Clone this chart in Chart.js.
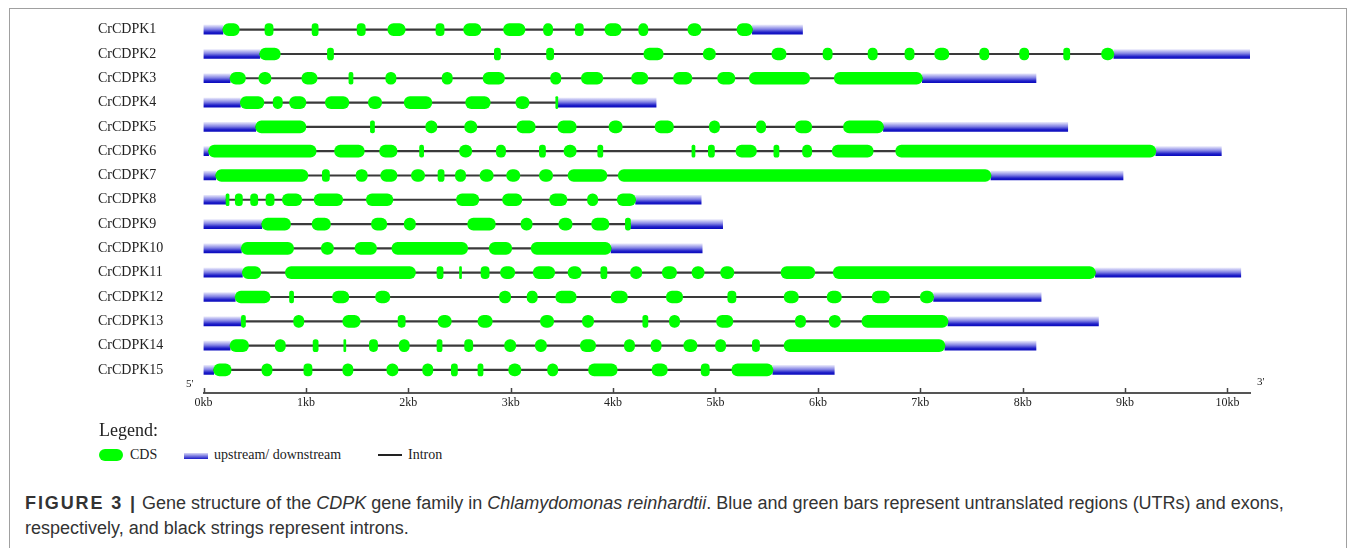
<!DOCTYPE html>
<html>
<head>
<meta charset="utf-8">
<script src="https://cdn.jsdelivr.net/npm/chart.js@4"></script>
<style>
  body { margin: 0; background: #fff; width: 1355px; height: 548px; overflow: hidden; position: relative; }
  #frame { position: absolute; left: 9px; top: 8px; width: 1336px; height: 560px; border: 1px solid #a0a0a0; }
  #wrap { position: absolute; left: 0; top: 0; width: 1355px; height: 420px; }
  .serif { font-family: "Liberation Serif", "DejaVu Serif", serif; color: #222; position: absolute; white-space: nowrap; }
  .caption { position: absolute; left: 25px; font-family: "Liberation Sans", Arial, sans-serif; font-size: 18px; color: #333; white-space: nowrap; }
  .caption b { letter-spacing: 1.9px; }
</style>
</head>
<body>
<div id="frame"></div>
<div id="wrap"><canvas id="geneChart" width="1355" height="420"></canvas></div>

<div class="serif" style="left:186px; top:377px; font-size:11px;">5'</div>
<div class="serif" style="left:1257px; top:375px; font-size:11px;">3'</div>

<div class="serif" style="left:99px; top:420px; font-size:18px;">Legend:</div>
<div style="position:absolute; left:99px; top:449px; width:24px; height:12px; border-radius:6px; background:#00ff00;"></div>
<div class="serif" style="left:130px; top:447px; font-size:14px;">CDS</div>
<div style="position:absolute; left:184px; top:453px; width:24px; height:6px; background:linear-gradient(#d8d8f6, #1a1ac8);"></div>
<div class="serif" style="left:214px; top:447px; font-size:14px;">upstream/ downstream</div>
<div style="position:absolute; left:378px; top:454px; width:24px; height:1.5px; background:#222;"></div>
<div class="serif" style="left:408px; top:447px; font-size:14px;">Intron</div>

<div class="caption" style="top:493px;"><b>FIGURE 3 |</b> Gene structure of the <i>CDPK</i> gene family in <i>Chlamydomonas reinhardtii</i>. Blue and green bars represent untranslated regions (UTRs) and exons,</div>
<div class="caption" style="top:518px;">respectively, and black strings represent introns.</div>

<script>
// gene names, top to bottom
const genes = ['CrCDPK1', 'CrCDPK2', 'CrCDPK3', 'CrCDPK4', 'CrCDPK5', 'CrCDPK6', 'CrCDPK7', 'CrCDPK8',
  'CrCDPK9', 'CrCDPK10', 'CrCDPK11', 'CrCDPK12', 'CrCDPK13', 'CrCDPK14', 'CrCDPK15'];

// full length of each gene (kb), every gene starts at 0
const geneEnd = [5.85, 10.23, 8.13, 4.42, 8.44, 9.94, 8.98, 4.86, 5.07, 4.87, 10.13, 8.18, 8.74, 8.13, 6.16];

// CDS (exon) intervals in kb, per gene
const exons1 = [[0.19,0.35],[0.60,0.68],[1.06,1.12],[1.50,1.58],[1.80,1.97],[2.27,2.35],[2.54,2.71],[2.93,3.14],[3.32,3.41],[3.63,3.71],[3.92,4.08],[4.25,4.34],[4.73,4.86],[5.21,5.36]];
const exons2 = [[0.55,0.75],[1.21,1.27],[2.84,2.90],[3.35,3.42],[4.30,4.49],[4.88,5.00],[5.55,5.69],[6.05,6.14],[6.49,6.58],[6.85,6.94],[7.14,7.28],[7.58,7.67],[7.97,8.06],[8.40,8.46],[8.77,8.89]];
const exons3 = [[0.26,0.41],[0.54,0.66],[0.96,1.11],[1.42,1.46],[1.78,1.88],[2.33,2.43],[2.73,2.94],[3.39,3.49],[3.69,3.90],[4.18,4.34],[4.59,4.77],[5.02,5.19],[5.33,5.92],[6.16,7.02]];
const exons4 = [[0.36,0.59],[0.68,0.77],[0.84,1.00],[1.19,1.42],[1.61,1.74],[1.96,2.23],[2.56,2.80],[3.05,3.18],[3.44,3.46]];
const exons5 = [[0.51,1.00],[1.63,1.67],[2.17,2.28],[2.55,2.67],[3.06,3.24],[3.46,3.64],[3.96,4.09],[4.41,4.59],[4.94,5.04],[5.40,5.49],[5.78,5.94],[6.25,6.64]];
const exons6 = [[0.05,1.10],[1.28,1.57],[1.72,1.89],[2.11,2.15],[2.50,2.62],[2.86,2.95],[3.28,3.34],[3.52,3.64],[3.85,3.90],[4.77,4.80],[4.93,4.99],[5.20,5.40],[5.57,5.62],[5.85,5.94],[6.14,6.54],[6.76,9.30]];
const exons7 = [[0.12,1.02],[1.16,1.23],[1.49,1.60],[1.73,1.89],[2.03,2.16],[2.29,2.35],[2.46,2.56],[2.70,2.83],[2.96,3.09],[3.28,3.41],[3.56,3.94],[4.05,7.69]];
const exons8 = [[0.22,0.25],[0.31,0.38],[0.46,0.53],[0.61,0.69],[0.77,0.96],[1.08,1.36],[1.59,1.85],[2.47,2.69],[2.92,3.11],[3.38,3.55],[3.75,3.85],[4.04,4.22]];
const exons9 = [[0.57,0.85],[1.06,1.24],[1.64,1.79],[1.96,2.07],[2.58,2.85],[3.10,3.21],[3.47,3.60],[3.79,3.96],[4.12,4.17]];
const exons10 = [[0.37,0.88],[1.15,1.27],[1.48,1.69],[1.84,2.58],[2.79,3.01],[3.20,3.98]];
const exons11 = [[0.38,0.56],[0.80,2.07],[2.28,2.34],[2.50,2.52],[2.71,2.79],[2.90,3.04],[3.22,3.43],[3.56,3.69],[3.88,3.94],[4.17,4.28],[4.48,4.62],[4.77,4.89],[5.05,5.18],[5.64,5.97],[6.15,8.71]];
const exons12 = [[0.31,0.65],[0.84,0.88],[1.26,1.42],[1.68,1.82],[2.89,3.00],[3.16,3.26],[3.44,3.64],[3.98,4.14],[4.52,4.68],[5.12,5.20],[5.67,5.81],[6.09,6.23],[6.53,6.70],[7.00,7.13]];
const exons13 = [[0.37,0.41],[0.88,0.98],[1.36,1.53],[1.90,1.97],[2.29,2.42],[2.68,2.82],[3.29,3.42],[3.70,3.81],[4.29,4.34],[4.55,4.65],[5.01,5.17],[5.78,5.88],[6.11,6.22],[6.43,7.27]];
const exons14 = [[0.26,0.44],[0.70,0.80],[1.07,1.12],[1.37,1.39],[1.62,1.70],[1.91,2.01],[2.28,2.33],[2.55,2.63],[2.94,3.05],[3.24,3.35],[3.68,3.83],[4.11,4.21],[4.37,4.47],[4.69,4.82],[5.00,5.10],[5.36,5.43],[5.67,7.24]];
const exons15 = [[0.10,0.27],[0.57,0.67],[0.98,1.06],[1.36,1.46],[1.79,1.90],[2.14,2.24],[2.42,2.48],[2.68,2.73],[2.98,3.10],[3.36,3.46],[3.76,4.04],[4.38,4.53],[4.86,4.94],[5.16,5.56]];

const exonSets = [exons1, exons2, exons3, exons4, exons5, exons6, exons7, exons8,
  exons9, exons10, exons11, exons12, exons13, exons14, exons15];

// x axis tick labels
const tickKb = [0, 1, 2, 3, 4, 5, 6, 7, 8, 9, 10];

const serif = 'Liberation Serif';

// build bar data from the arrays above
const cdsData = [];
const intronData = [];
const upData = [];
const downData = [];
exonSets.forEach((list, i) => {
  const row = i + 1;
  list.forEach(e => cdsData.push({ x: e, y: row }));
  const first = list[0][0];
  const last = list[list.length - 1][1];
  intronData.push({ x: [first, last], y: row });
  upData.push({ x: [0, first], y: row });
  downData.push({ x: [last, geneEnd[i]], y: row });
});

// blue UTR bars shade from pale at the top to dark blue at the bottom
function utrFill(ctx) {
  const chart = ctx.chart;
  const ys = chart.scales.y;
  if (!ys || !ctx.raw) return '#2a2ac8';
  const yc = ys.getPixelForValue(ctx.raw.y);
  if (!isFinite(yc)) return '#2a2ac8';
  const g = chart.ctx.createLinearGradient(0, yc - 4.5, 0, yc + 4.5);
  g.addColorStop(0, 'rgb(228,228,250)');
  g.addColorStop(0.45, 'rgb(130,130,228)');
  g.addColorStop(0.8, 'rgb(30,30,200)');
  g.addColorStop(1, 'rgb(12,12,190)');
  return g;
}

// small upward tick marks on the kb axis
const axisTicks = {
  id: 'axisTicks',
  afterDraw(chart) {
    const { ctx, scales } = chart;
    const base = scales.x.top;
    ctx.save();
    ctx.strokeStyle = '#444';
    ctx.lineWidth = 1.5;
    tickKb.forEach(v => {
      const px = Math.round(scales.x.getPixelForValue(v)) + 0.5;
      ctx.beginPath();
      ctx.moveTo(px, base);
      ctx.lineTo(px, base - 5);
      ctx.stroke();
    });
    ctx.restore();
  }
};

new Chart(document.getElementById('geneChart'), {
  type: 'bar',
  data: {
    datasets: [
      { label: 'CDS', data: cdsData, backgroundColor: '#00ff00', barThickness: 12,
        borderRadius: 6, borderSkipped: false },
      { label: 'Intron', data: intronData, backgroundColor: '#3a3a3a', barThickness: 1.5 },
      { label: 'upstream', data: upData, backgroundColor: utrFill, barThickness: 9 },
      { label: 'downstream', data: downData, backgroundColor: utrFill, barThickness: 9 }
    ]
  },
  options: {
    indexAxis: 'y',
    responsive: false,
    animation: false,
    events: [],
    datasets: { bar: { grouped: false } },
    layout: { padding: { left: 98, top: 17.5, right: 105, bottom: 0 } },
    plugins: { legend: { display: false }, tooltip: { enabled: false } },
    scales: {
      x: {
        type: 'linear',
        position: 'bottom',
        bounds: 'data',
        min: 0,
        max: 10.22,
        afterBuildTicks: s => { s.ticks = tickKb.map(v => ({ value: v })); },
        afterFit: s => { s.height = 27; s.paddingLeft = 0; s.paddingRight = 0; },
        ticks: {
          callback: v => v + 'kb',
          color: '#222',
          padding: 3,
          font: { family: serif, size: 12 }
        },
        grid: { display: false, drawTicks: false },
        border: { display: true, color: '#555', width: 2 }
      },
      y: {
        type: 'linear',
        reverse: true,
        offset: false,
        bounds: 'data',
        min: 0.5,
        max: 15.95,
        afterBuildTicks: s => { s.ticks = genes.map((g, i) => ({ value: i + 1 })); },
        afterFit: s => { s.width = 105.5; s.paddingTop = 0; s.paddingBottom = 0; },
        ticks: {
          autoSkip: false,
          crossAlign: 'far',
          callback: v => genes[v - 1],
          color: '#222',
          font: { family: serif, size: 14 }
        },
        grid: { display: false },
        border: { display: false }
      }
    }
  },
  plugins: [axisTicks]
});
</script>
</body>
</html>
